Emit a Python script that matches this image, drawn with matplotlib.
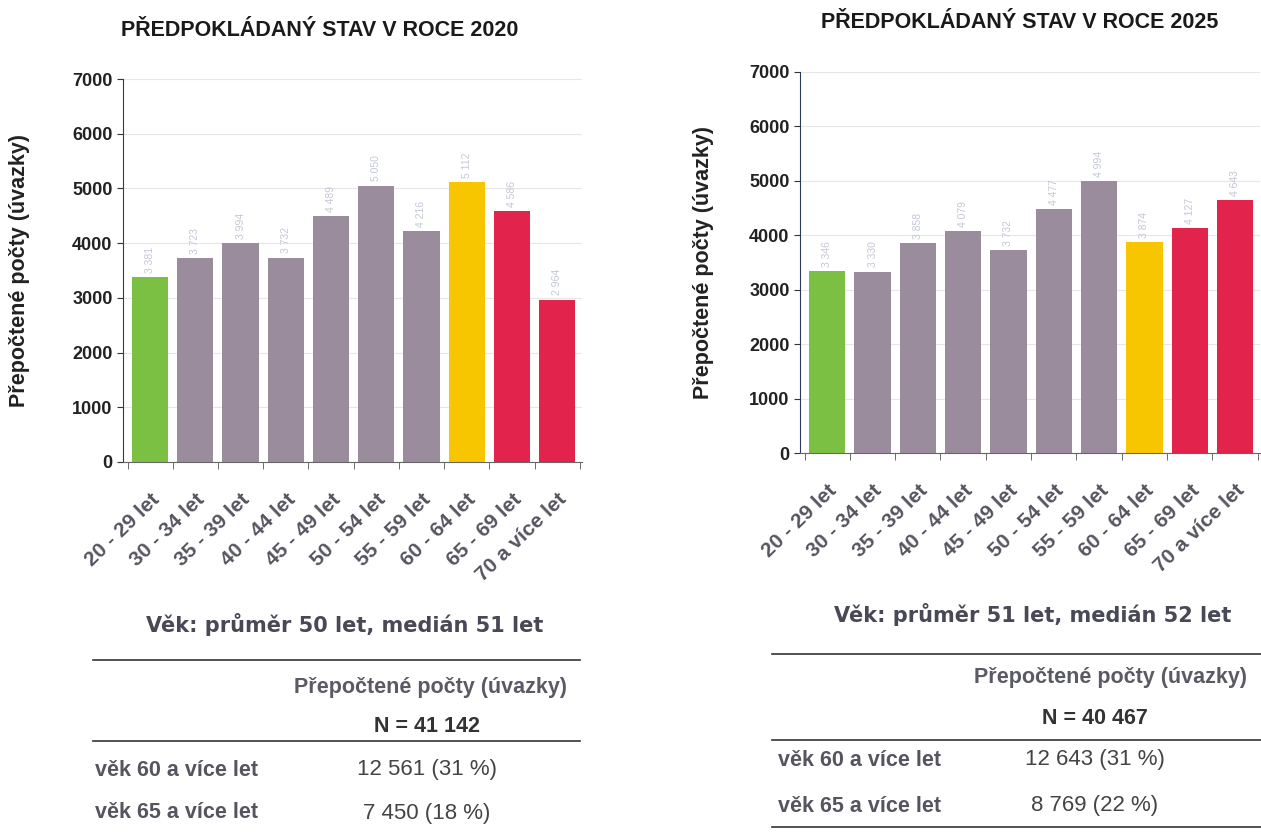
import matplotlib.pyplot as plt
from matplotlib.lines import Line2D
from matplotlib.transforms import ScaledTranslation

age_groups = ['20 - 29 let', '30 - 34 let', '35 - 39 let', '40 - 44 let', '45 - 49 let',
              '50 - 54 let', '55 - 59 let', '60 - 64 let', '65 - 69 let', '70 a více let']
counts_2020 = [3381, 3723, 3994, 3732, 4489, 5050, 4216, 5112, 4586, 2964]
counts_2025 = [3346, 3330, 3858, 4079, 3732, 4477, 4994, 3874, 4127, 4643]
bar_colors = ['#7cc043'] + ['#9a8c9d'] * 6 + ['#f7c600', '#e2234b', '#e2234b']

summary_2020 = ['Věk: průměr 50 let, medián 51 let', 'N = 41 142', '12 561 (31 %)', '7 450 (18 %)']
summary_2025 = ['Věk: průměr 51 let, medián 52 let', 'N = 40 467', '12 643 (31 %)', '8 769 (22 %)']
row_labels = ['věk 60 a více let', 'věk 65 a více let']

plt.rcParams['font.family'] = ['Liberation Sans', 'DejaVu Sans']
W, H = 1261, 832
fig = plt.figure(figsize=(W / 100, H / 100), dpi=100)


def px(x, y):
    return x / W, 1 - y / H


def draw_chart(rect, values, title, title_xy, ylabel_x):
    x0, y0, x1, y1 = rect
    ax = fig.add_axes([x0 / W, 1 - y1 / H, (x1 - x0) / W, (y1 - y0) / H])
    pos = range(len(values))
    ax.bar(pos, values, width=0.8, color=bar_colors, zorder=2)
    for p, v in zip(pos, values):
        lab = f'{v:,}'.replace(',', ' ')
        ax.text(p, v + 80, lab, rotation=90, ha='center', va='bottom',
                fontsize=7.5, color='#c4c8d6')
    ax.set_xlim(-0.6, len(values) - 0.45)
    ax.set_ylim(0, 7000)
    ax.set_yticks(range(0, 7001, 1000))
    ax.tick_params(axis='y', labelsize=13, length=4, colors='#333333', labelcolor='#222222')
    for lbl in ax.get_yticklabels():
        lbl.set_fontweight('bold')
    ax.set_xticks([p - 0.5 for p in pos] + [len(values) - 0.5], minor=True)
    ax.set_xticks(list(pos))
    ax.set_xticklabels(age_groups, rotation=44, ha='right', rotation_mode='anchor',
                       fontsize=15, color='#555560', fontweight='bold')
    shift = ScaledTranslation(-0.2, -0.06, fig.dpi_scale_trans)
    for lbl in ax.get_xticklabels():
        lbl.set_transform(lbl.get_transform() + shift)
    ax.tick_params(axis='x', which='major', length=0, pad=20)
    ax.tick_params(axis='x', which='minor', length=5, color='#555555')
    ax.grid(axis='y', color='#e6e6e6', linewidth=0.8, zorder=0)
    ax.spines['top'].set_visible(False)
    ax.spines['right'].set_visible(False)
    ax.spines['left'].set_color('#2e3a5a')
    ax.spines['bottom'].set_color('#666666')
    fig.text(ylabel_x / W, 1 - ((y0 + y1) / 2) / H, 'Přepočtené počty (úvazky)',
             rotation=90, ha='center', va='center', fontsize=15.5, fontweight='bold',
             color='#222222')
    tx, ty = px(*title_xy)
    fig.text(tx, ty, title, ha='center', va='center', fontsize=15.5, fontweight='bold',
             color='#1a1a1a', family=['Liberation Sans Narrow', 'Liberation Sans', 'DejaVu Sans'])
    return ax


def draw_summary(texts, line_x, value_x, label_x, ys):
    head, n_txt, row1, row2 = texts
    fig.text(*px(line_x[2], ys[0]), head, ha='center', va='center', fontsize=15,
             color='#484856', fontweight='bold', family=['DejaVu Sans'])
    for ly in ys[1]:
        fig.add_artist(Line2D([line_x[0] / W, line_x[1] / W], [1 - ly / H, 1 - ly / H],
                              color='#333333', linewidth=1.2))
    fig.text(*px(value_x[0], ys[2]), 'Přepočtené počty (úvazky)', ha='center', va='center',
             fontsize=15.5, color='#5a5a66', fontweight='bold')
    fig.text(*px(value_x[1], ys[3]), n_txt, ha='center', va='center',
             fontsize=15.5, color='#333333', fontweight='bold')
    fig.text(*px(label_x, ys[4]), row_labels[0], ha='left', va='center',
             fontsize=15.5, color='#555560', fontweight='bold')
    fig.text(*px(value_x[1], ys[4]), row1, ha='center', va='center',
             fontsize=16, color='#444444')
    fig.text(*px(label_x, ys[5]), row_labels[1], ha='left', va='center',
             fontsize=15.5, color='#555560', fontweight='bold')
    fig.text(*px(value_x[1], ys[5]), row2, ha='center', va='center',
             fontsize=16, color='#444444')


draw_chart((123, 79, 582, 462), counts_2020, 'PŘEDPOKLÁDANÝ STAV V ROCE 2020', (320, 30), 20)
draw_chart((800, 72, 1260, 453), counts_2025, 'PŘEDPOKLÁDANÝ STAV V ROCE 2025', (1020, 22), 703)

draw_summary(summary_2020, (93, 580, 345), (431, 427), 95,
             (625, (660, 741), 687, 727, 770, 813))
draw_summary(summary_2025, (772, 1261, 1033), (1110, 1095), 778,
             (614, (654, 740, 827), 677, 718, 760, 806))

fig.savefig('out.png', dpi=100, facecolor='white')
